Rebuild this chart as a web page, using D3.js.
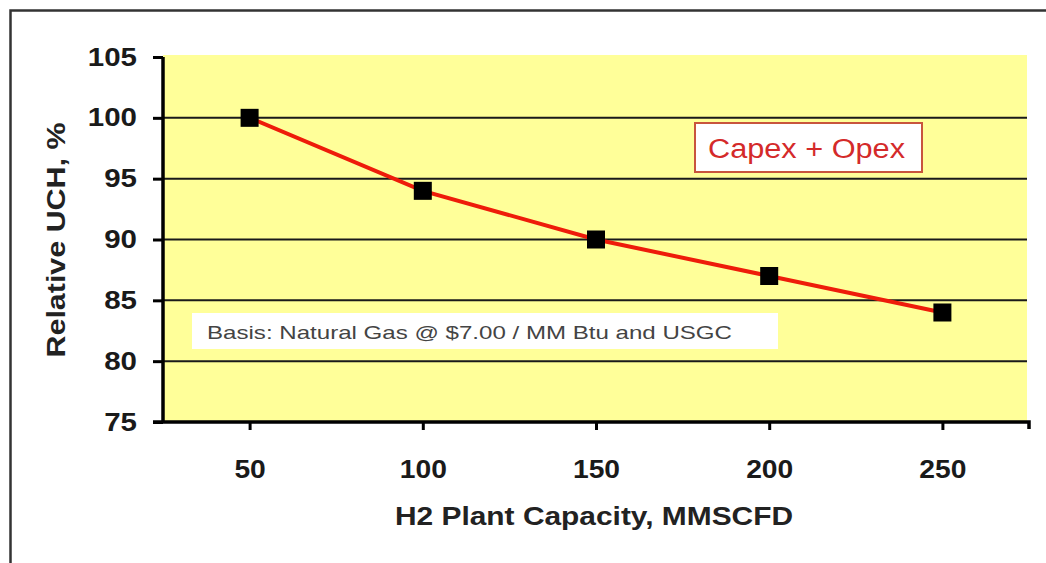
<!DOCTYPE html>
<html>
<head>
<meta charset="utf-8">
<script src="https://cdn.jsdelivr.net/npm/d3@7"></script>
<style>
html,body{margin:0;padding:0;background:#fff;}
svg{display:block;}
</style>
</head>
<body>
<svg id="chart" width="1046" height="563"></svg>
<script>
const capacities = [50, 100, 150, 200, 250];
const relativeUCH = [100, 94, 90, 87, 84];
const yTicks = [75, 80, 85, 90, 95, 100, 105];
const xTicks = [50, 100, 150, 200, 250];
const xTitle = "H2 Plant Capacity, MMSCFD";
const yTitle = "Relative UCH, %";
const seriesLabel = "Capex + Opex";
const noteText = "Basis: Natural Gas @ $7.00 / MM Btu and USGC";

(function () {
const svg = d3.select("#chart");
const font = "Arial, 'Liberation Sans', sans-serif";

function stretch(sel, k) {
  sel.each(function () {
    const w = this.getComputedTextLength();
    d3.select(this).attr("textLength", w * k).attr("lengthAdjust", "spacingAndGlyphs");
  });
}

// outer frame (extends beyond picture right/bottom)
svg.append("path")
  .attr("d", "M10.5,563 L10.5,10.5 L1046,10.5")
  .attr("fill", "none").attr("stroke", "#333").attr("stroke-width", 2.5);

const pL = 163, pR = 1029, pT = 57, pB = 422;
const x = d3.scaleLinear().domain([25, 275]).range([pL, pR]);
const y = d3.scaleLinear().domain([75, 105]).range([pB, pT]);

// plot background
svg.append("rect")
  .attr("x", pL).attr("y", pT - 2)
  .attr("width", pR - pL - 2).attr("height", pB - pT + 2)
  .attr("fill", "#ffff99");

// gridlines
svg.append("g").selectAll("line")
  .data(yTicks.filter(d => d > 75 && d < 105))
  .join("line")
  .attr("x1", pL).attr("x2", pR - 2)
  .attr("y1", d => y(d)).attr("y2", d => y(d))
  .attr("stroke", "#1a1a1a").attr("stroke-width", 2);

// y axis
const yAxis = svg.append("g")
  .attr("transform", `translate(${pL},0)`)
  .call(d3.axisLeft(y).tickValues(yTicks).tickSize(10).tickPadding(16).tickFormat(d3.format("d")));
yAxis.select(".domain").attr("stroke", "#000").attr("stroke-width", 3.5)
  .attr("d", `M0,${pT}V${pB}`);
yAxis.selectAll(".tick line").attr("stroke", "#000").attr("stroke-width", 3);
yAxis.selectAll(".tick text")
  .attr("font-family", font).attr("font-size", 25).attr("font-weight", "bold")
  .attr("fill", "#1a1a1a").call(stretch, 1.18);

// x axis
const xAxis = svg.append("g")
  .attr("transform", `translate(0,${pB})`)
  .call(d3.axisBottom(x).tickValues(xTicks).tickSize(8).tickPadding(30).tickFormat(d3.format("d")));
xAxis.select(".domain").attr("stroke", "#000").attr("stroke-width", 3.5)
  .attr("d", `M${pL - 10},0H${pR}V7`);
xAxis.selectAll(".tick line").attr("stroke", "#000").attr("stroke-width", 3);
xAxis.selectAll(".tick text")
  .attr("font-family", font).attr("font-size", 25).attr("font-weight", "bold")
  .attr("fill", "#1a1a1a").call(stretch, 1.13);

// axis titles
svg.append("text")
  .attr("x", 594).attr("y", 525)
  .attr("text-anchor", "middle")
  .attr("font-family", font).attr("font-size", 26).attr("font-weight", "bold")
  .attr("fill", "#222").attr("textLength", 398).attr("lengthAdjust", "spacingAndGlyphs")
  .text(xTitle);

svg.append("text")
  .attr("transform", "translate(65,240) rotate(-90)")
  .attr("text-anchor", "middle")
  .attr("font-family", font).attr("font-size", 25).attr("font-weight", "bold")
  .attr("fill", "#222").attr("textLength", 235).attr("lengthAdjust", "spacingAndGlyphs")
  .text(yTitle);

// note box
svg.append("rect")
  .attr("x", 192).attr("y", 313).attr("width", 586).attr("height", 36)
  .attr("fill", "#fff");
svg.append("text")
  .attr("x", 207).attr("y", 339)
  .attr("font-family", font).attr("font-size", 19)
  .attr("fill", "#444").attr("textLength", 525).attr("lengthAdjust", "spacingAndGlyphs")
  .text(noteText);

// series line
const pts = capacities.map((c, i) => [c, relativeUCH[i]]);
svg.append("path")
  .datum(pts)
  .attr("d", d3.line().x(d => x(d[0])).y(d => y(d[1])))
  .attr("fill", "none").attr("stroke", "#ee1c0a").attr("stroke-width", 4);

// markers
const ms = 18;
svg.append("g").selectAll("rect")
  .data(pts)
  .join("rect")
  .attr("x", d => x(d[0]) - ms / 2).attr("y", d => y(d[1]) - ms / 2)
  .attr("width", ms).attr("height", ms)
  .attr("fill", "#000");

// series label box
svg.append("rect")
  .attr("x", 695).attr("y", 123).attr("width", 227).attr("height", 49)
  .attr("fill", "#fff").attr("stroke", "#c8553d").attr("stroke-width", 2);
svg.append("text")
  .attr("x", 708).attr("y", 158)
  .attr("font-family", font).attr("font-size", 27)
  .attr("fill", "#d42a2a").attr("textLength", 197).attr("lengthAdjust", "spacingAndGlyphs")
  .text(seriesLabel);
})();
</script>
</body>
</html>
